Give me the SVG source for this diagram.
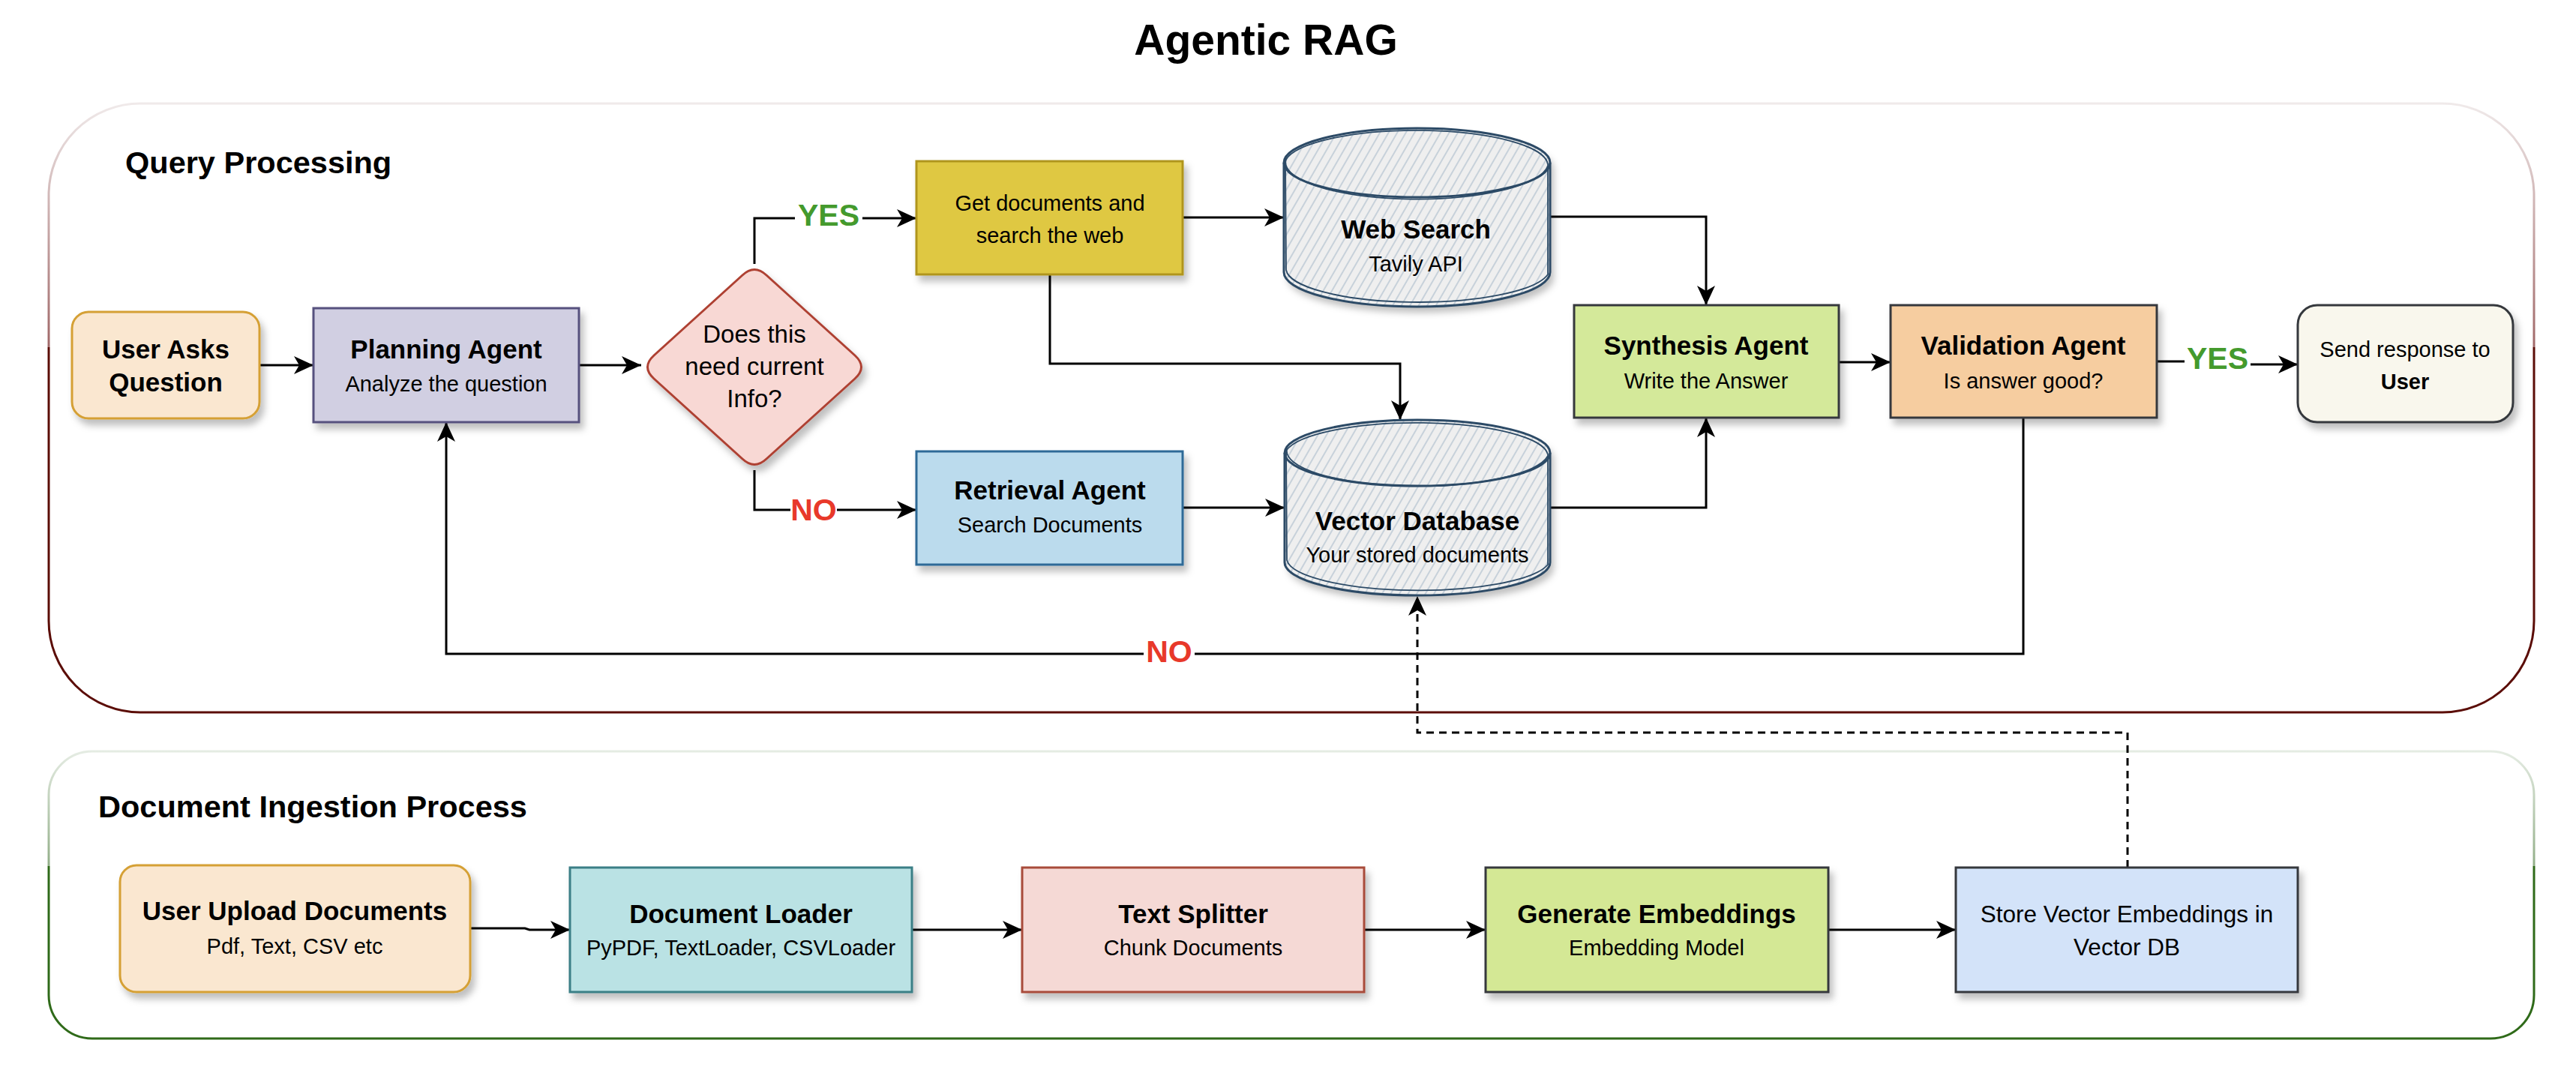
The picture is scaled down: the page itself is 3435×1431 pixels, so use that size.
<svg xmlns="http://www.w3.org/2000/svg" width="3435" height="1431" viewBox="0 0 3435 1431">
<style>
text{font-family:"Liberation Sans",Arial,sans-serif;fill:#000;text-anchor:middle}
.b{font-weight:bold;font-size:35px}
.r{font-size:29px}
.h{font-weight:bold;font-size:41.5px;text-anchor:start}
.lbl{font-weight:bold;font-size:41px}
.yes{fill:#449a2d}
.no{fill:#e8392a}
.con{fill:none;stroke:#000;stroke-width:3}
.arr{marker-end:url(#ah)}
.dash{stroke-dasharray:10 7}
.node{filter:url(#sh)}
.dk{stroke:#36393d;stroke-width:3}
.cyl{stroke:#2c4a66;stroke-width:3;fill:none}
.cyl2{stroke:#2c4a66;stroke-width:1.8;fill:none}
</style>
<defs>
<filter id="sh" x="-10%" y="-10%" width="130%" height="140%">
<feDropShadow dx="5" dy="8" stdDeviation="5" flood-color="#000" flood-opacity="0.25"/>
</filter>
<marker id="ah" markerUnits="userSpaceOnUse" markerWidth="28" markerHeight="26" refX="26" refY="12" orient="auto">
<path d="M0,0 L26,12 L0,24 L7,12 Z" fill="#000"/>
</marker>
<pattern id="hatch" patternUnits="userSpaceOnUse" width="10" height="10" patternTransform="rotate(30)">
<line x1="2" y1="0" x2="2" y2="10" stroke="#b2c1cf" stroke-width="1.3"/>
</pattern>
<linearGradient id="gq" x1="0" y1="0" x2="0" y2="1">
<stop offset="0" stop-color="#f0eaea"/>
<stop offset="0.40" stop-color="#a06868"/>
<stop offset="0.40" stop-color="#5b0d07"/>
<stop offset="1" stop-color="#5b0d07"/>
</linearGradient>
<linearGradient id="gd" x1="0" y1="0" x2="0" y2="1">
<stop offset="0" stop-color="#e5ece3"/>
<stop offset="0.40" stop-color="#92ae88"/>
<stop offset="0.40" stop-color="#2f6a19"/>
<stop offset="1" stop-color="#2f6a19"/>
</linearGradient>
</defs>
<rect width="3435" height="1431" fill="#fff"/>
<text x="1688" y="73" style="font-weight:bold;font-size:57px">Agentic RAG</text>

<g id="query-processing">
<rect x="65" y="138" width="3314" height="812" rx="122" ry="122" fill="none" stroke="url(#gq)" stroke-width="3"/>
<text class="h" x="167" y="231">Query Processing</text>
</g>
<g id="document-ingestion">
<rect x="65" y="1002" width="3314" height="383" rx="58" ry="58" fill="none" stroke="url(#gd)" stroke-width="3"/>
<text class="h" x="131" y="1090">Document Ingestion Process</text>
</g>

<g id="connectors">
<path class="con arr" d="M346 487 H418"/>
<path class="con arr" d="M772 487 H855"/>
<path class="con arr" d="M1006 352 V291 H1222"/>
<path class="con arr" d="M1006 627 V680 H1222"/>
<path class="con arr" d="M1577 290 H1712"/>
<path class="con arr" d="M1400 366 V485 H1867 V560"/>
<path class="con arr" d="M1577 677 H1713"/>
<path class="con arr" d="M2067 289 H2275 V407"/>
<path class="con arr" d="M2067 677 H2275 V557"/>
<path class="con arr" d="M2452 483 H2521"/>
<path class="con arr" d="M2876 482 H2958 V486 H3064"/>
<path class="con arr" d="M2698 557 V872 H595 V563"/>
<path class="con arr dash" d="M2837 1157 V977 H1890 V795"/>
<path class="con arr" d="M627 1238 H700 L706 1240 H760"/>
<path class="con arr" d="M1216 1240 H1363"/>
<path class="con arr" d="M1819 1240 H1981"/>
<path class="con arr" d="M2438 1240 H2608"/>
<rect x="1060" y="268" width="90" height="42" fill="#fff"/>
<text class="lbl yes" x="1105" y="301">YES</text>
<rect x="1054" y="658" width="62" height="42" fill="#fff"/>
<text class="lbl no" x="1085" y="694">NO</text>
<rect x="2913" y="458" width="88" height="42" fill="#fff"/>
<text class="lbl yes" x="2957" y="492">YES</text>
<rect x="1525" y="850" width="68" height="42" fill="#fff"/>
<text class="lbl no" x="1559" y="883">NO</text>
</g>

<g id="user-asks-question">
<rect class="node" x="96" y="416" width="250" height="142" rx="22" fill="#fae7d0" stroke="#d5a035" stroke-width="3"/>
<text class="b" x="221" y="478">User Asks</text>
<text class="b" x="221" y="522">Question</text>
</g>
<g id="planning-agent">
<rect class="node" x="418" y="411" width="354" height="152" fill="#d1cfe2" stroke="#56517e" stroke-width="3"/>
<text class="b" x="595" y="478">Planning Agent</text>
<text class="r" x="595" y="522">Analyze the question</text>
</g>
<g id="decision">
<path class="node" d="M990 367 Q1006 352 1022 367 L1140 474 Q1157 489.5 1140 505 L1022 612 Q1006 627 990 612 L872 505 Q855 489.5 872 474 Z" fill="#f8d8d4" stroke="#ae4132" stroke-width="3"/>
<text style="font-size:33px" x="1006" y="457">Does this</text>
<text style="font-size:33px" x="1006" y="500">need current</text>
<text style="font-size:33px" x="1006" y="543">Info?</text>
</g>
<g id="get-documents">
<rect class="node" x="1222" y="215" width="355" height="151" fill="#dfc843" stroke="#b0951f" stroke-width="3"/>
<text class="r" x="1400" y="281">Get documents and</text>
<text class="r" x="1400" y="324">search the web</text>
</g>
<g id="retrieval-agent">
<rect class="node" x="1222" y="602" width="355" height="151" fill="#bbdbed" stroke="#2f6b97" stroke-width="3"/>
<text class="b" x="1400" y="666">Retrieval Agent</text>
<text class="r" x="1400" y="710">Search Documents</text>
</g>
<g id="web-search">
<path class="node" d="M1712 217 A177.5 46 0 0 1 2067 217 V363 A177.5 46 0 0 1 1712 363 Z" fill="#efefef"/>
<path d="M1712 217 A177.5 46 0 0 1 2067 217 V363 A177.5 46 0 0 1 1712 363 Z" fill="url(#hatch)"/>
<path class="cyl" d="M1712 217 A177.5 46 0 0 1 2067 217 V363 A177.5 46 0 0 1 1712 363 Z"/>
<path class="cyl2" d="M1714 214 A176 47 0 0 1 2064 219 V366 A176 45 0 0 1 1715 360 Z"/>
<path class="cyl" d="M1712 217 A177.5 46 0 0 0 2067 217"/>
<path class="cyl2" d="M1715 212 A175 49 0 0 0 2064 221"/>
<text class="b" x="1888" y="318">Web Search</text>
<text class="r" x="1888" y="362">Tavily API</text>
</g>
<g id="vector-database">
<path class="node" d="M1713 604 A177 44 0 0 1 2067 604 V750 A177 44 0 0 1 1713 750 Z" fill="#efefef"/>
<path d="M1713 604 A177 44 0 0 1 2067 604 V750 A177 44 0 0 1 1713 750 Z" fill="url(#hatch)"/>
<path class="cyl" d="M1713 604 A177 44 0 0 1 2067 604 V750 A177 44 0 0 1 1713 750 Z"/>
<path class="cyl2" d="M1715 601 A176 45 0 0 1 2064 606 V753 A176 43 0 0 1 1716 747 Z"/>
<path class="cyl" d="M1713 604 A177 44 0 0 0 2067 604"/>
<path class="cyl2" d="M1716 599 A175 47 0 0 0 2064 608"/>
<text class="b" x="1890" y="707">Vector Database</text>
<text class="r" x="1890" y="750">Your stored documents</text>
</g>
<g id="synthesis-agent">
<rect class="node dk" x="2099" y="407" width="353" height="150" fill="#d4e99a"/>
<text class="b" x="2275" y="473">Synthesis Agent</text>
<text class="r" x="2275" y="518">Write the Answer</text>
</g>
<g id="validation-agent">
<rect class="node dk" x="2521" y="407" width="355" height="150" fill="#f6cda0"/>
<text class="b" x="2698" y="473">Validation Agent</text>
<text class="r" x="2698" y="518">Is answer good?</text>
</g>
<g id="send-response">
<rect class="node dk" x="3064" y="407" width="287" height="156" rx="26" fill="#f9f7ed"/>
<text class="r" x="3207" y="476">Send response to</text>
<text class="r" style="font-weight:bold" x="3207" y="519">User</text>
</g>

<g id="user-upload-documents">
<rect class="node" x="160" y="1154" width="467" height="169" rx="22" fill="#fae7d0" stroke="#d5a035" stroke-width="3"/>
<text class="b" x="393" y="1227">User Upload Documents</text>
<text class="r" x="393" y="1272">Pdf, Text, CSV etc</text>
</g>
<g id="document-loader">
<rect class="node" x="760" y="1157" width="456" height="166" fill="#bae2e4" stroke="#3a7f86" stroke-width="3"/>
<text class="b" x="988" y="1231">Document Loader</text>
<text class="r" x="988" y="1274">PyPDF, TextLoader, CSVLoader</text>
</g>
<g id="text-splitter">
<rect class="node" x="1363" y="1157" width="456" height="166" fill="#f5d9d5" stroke="#a84b3a" stroke-width="3"/>
<text class="b" x="1591" y="1231">Text Splitter</text>
<text class="r" x="1591" y="1274">Chunk Documents</text>
</g>
<g id="generate-embeddings">
<rect class="node dk" x="1981" y="1157" width="457" height="166" fill="#d4e895"/>
<text class="b" x="2209" y="1231">Generate Embeddings</text>
<text class="r" x="2209" y="1274">Embedding Model</text>
</g>
<g id="store-vector-embeddings">
<rect class="node dk" x="2608" y="1157" width="456" height="166" fill="#d3e3f9"/>
<text style="font-size:31.5px" x="2836" y="1230">Store Vector Embeddings in</text>
<text style="font-size:31.5px" x="2836" y="1274">Vector DB</text>
</g>
</svg>
